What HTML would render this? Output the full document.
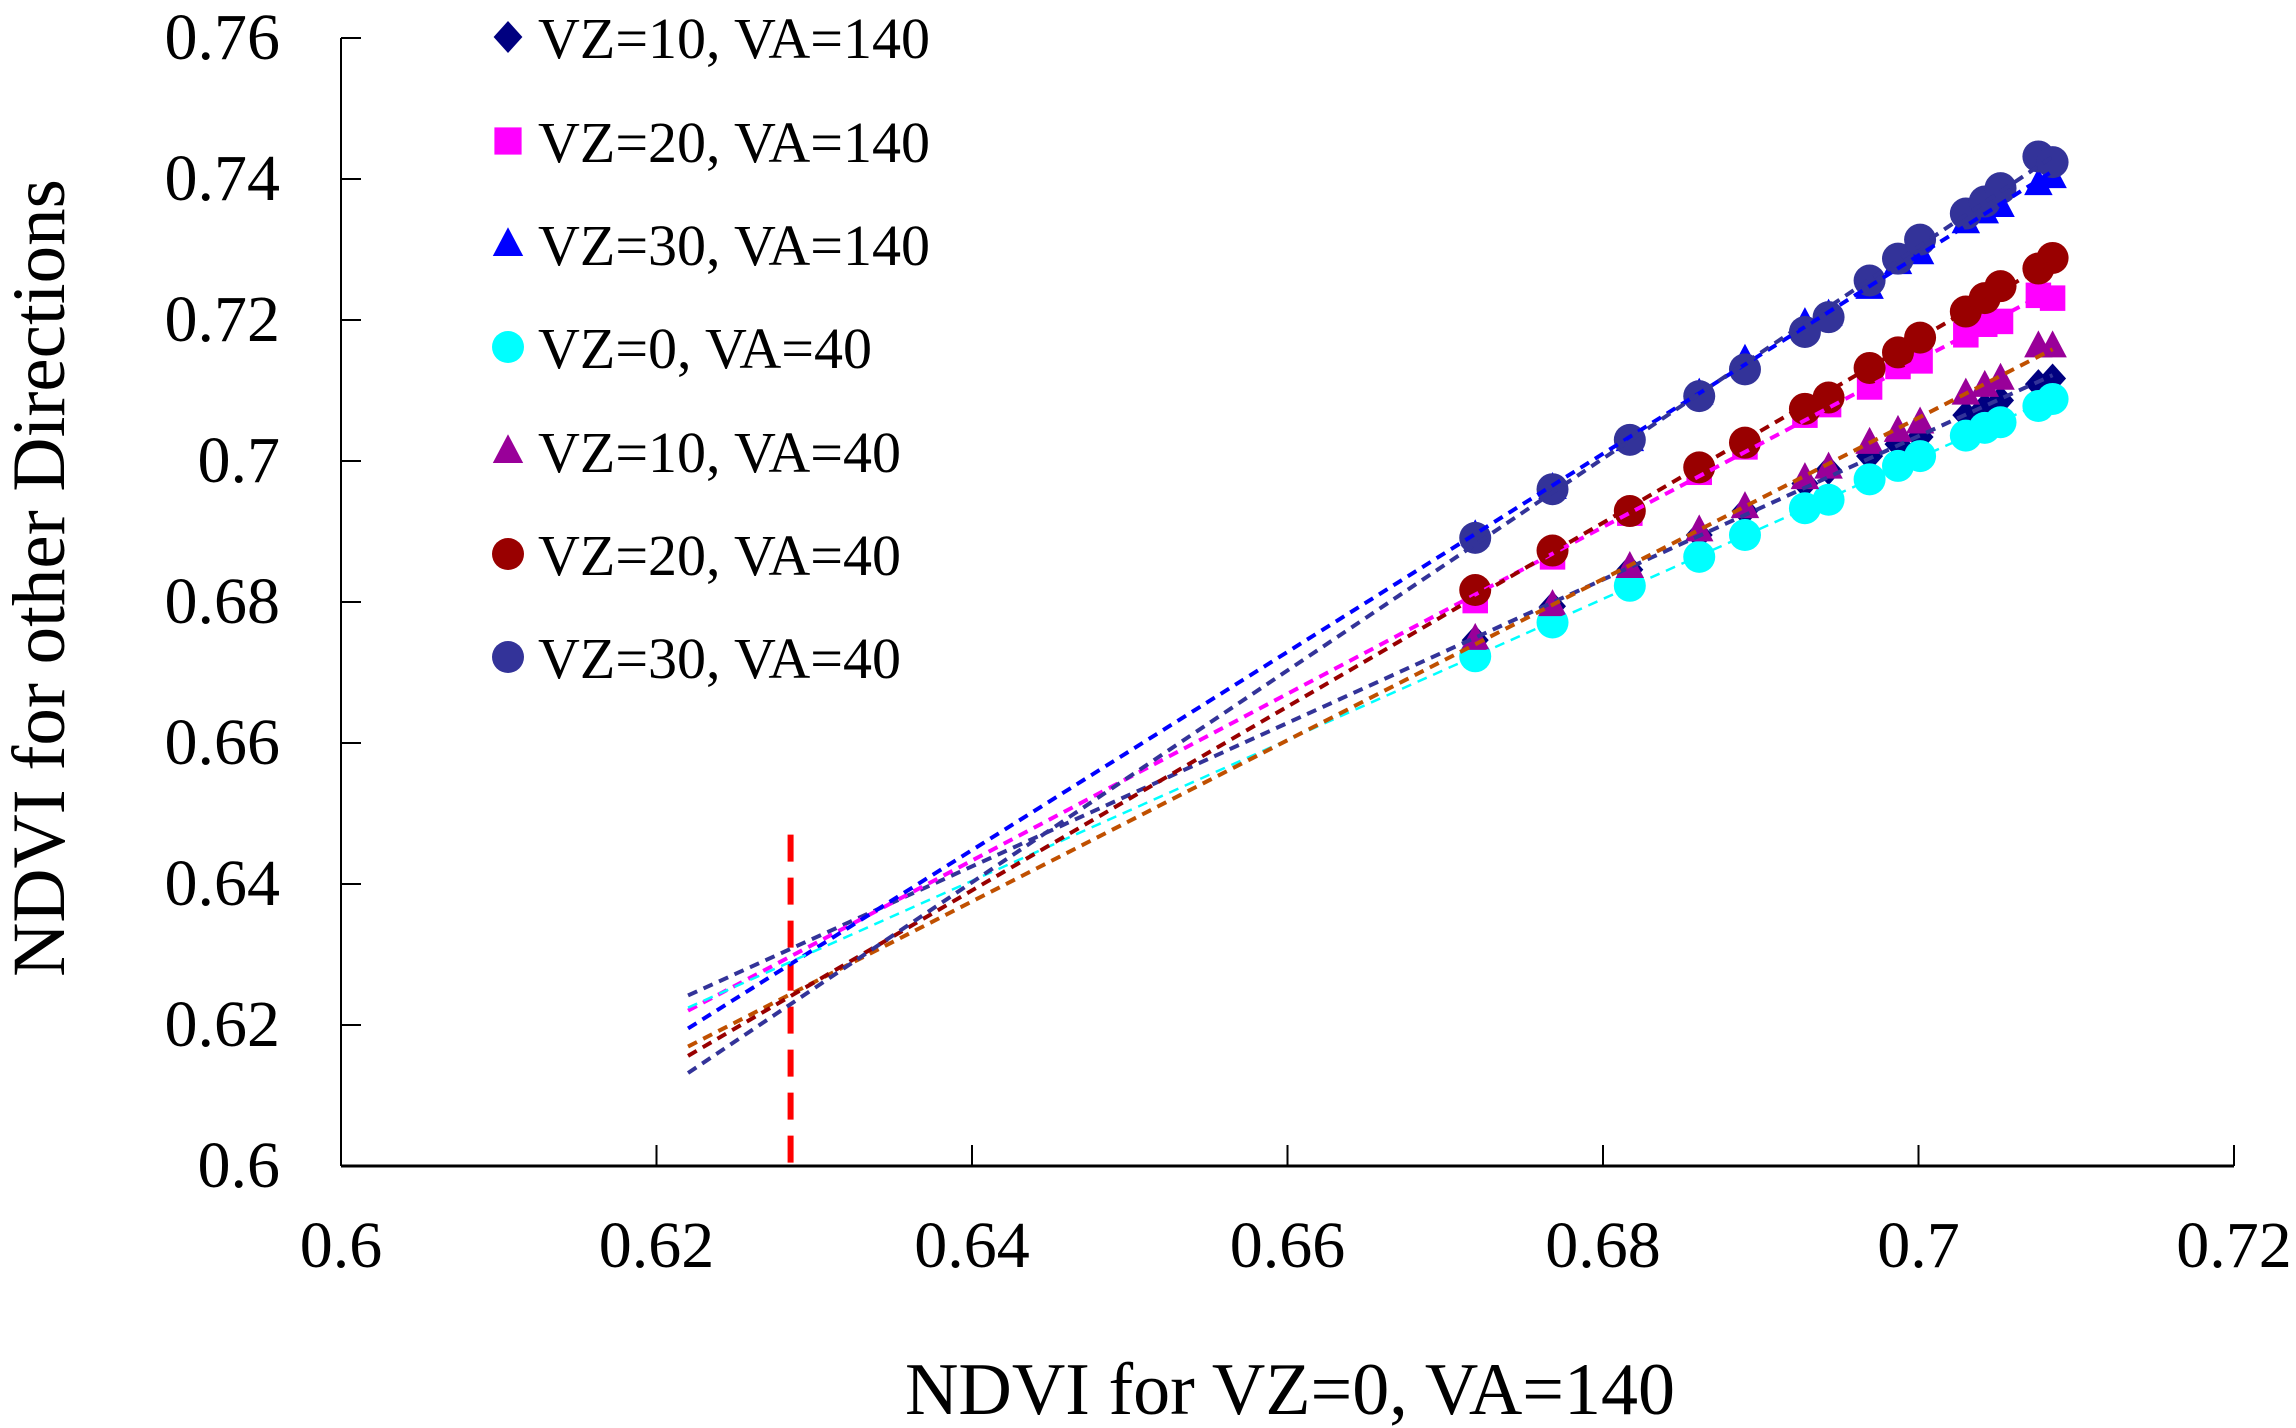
<!DOCTYPE html>
<html><head><meta charset="utf-8">
<style>
html,body{margin:0;padding:0;background:#fff;}
svg{display:block;}
text{font-family:"Liberation Serif",serif;fill:#000;}
</style></head>
<body>
<svg id="chart" width="2296" height="1428" viewBox="0 0 2296 1428" xmlns="http://www.w3.org/2000/svg">
<rect x="0" y="0" width="2296" height="1428" fill="#fff"/>
<g id="axes"></g>
<g id="marks"></g>
<g id="trends"></g>
<g id="legend"></g>
<text x="0" y="0" font-size="75" text-anchor="middle" transform="translate(64,578) rotate(-90)">NDVI for other Directions</text>
<text x="1290" y="1414" font-size="74" text-anchor="middle">NDVI for VZ=0, VA=140</text>
</svg>
<script>
const xTicks = [0.6, 0.62, 0.64, 0.66, 0.68, 0.7, 0.72];
const xTickLabels = ["0.6", "0.62", "0.64", "0.66", "0.68", "0.7", "0.72"];
const yTicks = [0.6, 0.62, 0.64, 0.66, 0.68, 0.7, 0.72, 0.74, 0.76];
const yTickLabels = ["0.6", "0.62", "0.64", "0.66", "0.68", "0.7", "0.72", "0.74", "0.76"];
const xValues = [0.6719, 0.6768, 0.6817, 0.6861, 0.6890, 0.6928, 0.6943, 0.6969, 0.6987, 0.7001, 0.7030, 0.7042, 0.7052, 0.7076, 0.7085];
const seriesNames = ["VZ=10, VA=140", "VZ=20, VA=140", "VZ=30, VA=140", "VZ=0, VA=40", "VZ=10, VA=40", "VZ=20, VA=40", "VZ=30, VA=40"];
const vz10va140 = [0.6746, 0.6794, 0.6846, 0.6895, 0.6929, 0.6968, 0.6987, 0.7007, 0.7024, 0.7034, 0.7065, 0.7076, 0.7086, 0.7109, 0.7117];
const vz20va140 = [0.6802, 0.6864, 0.6926, 0.6984, 0.7020, 0.7065, 0.7080, 0.7105, 0.7134, 0.7142, 0.7179, 0.7194, 0.7198, 0.7235, 0.7231];
const vz30va140 = [0.6895, 0.6962, 0.7030, 0.7096, 0.7144, 0.7196, 0.7208, 0.7246, 0.7281, 0.7295, 0.7339, 0.7353, 0.7362, 0.7393, 0.7403];
const vz0va40 = [0.6723, 0.6771, 0.6823, 0.6864, 0.6895, 0.6933, 0.6945, 0.6974, 0.6993, 0.7007, 0.7036, 0.7047, 0.7055, 0.7078, 0.7088];
const vz10va40 = [0.6748, 0.6796, 0.6850, 0.6902, 0.6935, 0.6976, 0.6991, 0.7026, 0.7043, 0.7055, 0.7096, 0.7107, 0.7117, 0.7163, 0.7163];
const vz20va40 = [0.6817, 0.6873, 0.6929, 0.6991, 0.7026, 0.7074, 0.7090, 0.7132, 0.7154, 0.7175, 0.7212, 0.7231, 0.7248, 0.7273, 0.7288];
const vz30va40 = [0.6891, 0.6960, 0.7030, 0.7092, 0.7130, 0.7183, 0.7204, 0.7256, 0.7287, 0.7314, 0.7351, 0.7368, 0.7387, 0.7432, 0.7424];
const trendStart = 0.622;
const markerLineX = 0.6285;
const markerLineTop = 0.647;

const NS = "http://www.w3.org/2000/svg";
const X0 = 341, X1 = 2234, Y0 = 1166, Y1 = 38;
const xMin = 0.6, xMax = 0.72, yMin = 0.6, yMax = 0.76;
function sx(v){ return X0 + (v - xMin) / (xMax - xMin) * (X1 - X0); }
function sy(v){ return Y0 - (v - yMin) / (yMax - yMin) * (Y0 - Y1); }
function mk(tag, attrs, parent){
  const e = document.createElementNS(NS, tag);
  for (const k in attrs) e.setAttribute(k, attrs[k]);
  parent.appendChild(e);
  return e;
}
const axes = document.getElementById('axes');
const marks = document.getElementById('marks');
const trends = document.getElementById('trends');
const legend = document.getElementById('legend');

let yl = mk('line', {x1:X0, y1:sy(yMax), x2:X0, y2:Y0, stroke:'#000', 'stroke-width':2}, axes);


let xl = mk('line', {x1:X0, y1:Y0, x2:X1, y2:Y0, stroke:'#000', 'stroke-width':3}, axes);


xTicks.forEach((v, i) => {
  const t = mk('line', {x1:sx(v), y1:Y0, x2:sx(v), y2:Y0-21, stroke:'#000', 'stroke-width':2}, axes);
  
  
  const l = mk('text', {x:sx(v), y:Y0+101, 'font-size':66, 'text-anchor':'middle'}, axes);
  l.textContent = xTickLabels[i];
  
  
});
yTicks.forEach((v, i) => {
  const t = mk('line', {x1:X0, y1:sy(v), x2:X0+20, y2:sy(v), stroke:'#000', 'stroke-width':2}, axes);
  
  
  const l = mk('text', {x:280, y:sy(v)+21, 'font-size':66, 'text-anchor':'end'}, axes);
  l.textContent = yTickLabels[i];
  
  
});
const rl = mk('line', {x1:sx(markerLineX), y1:sy(markerLineTop), x2:sx(markerLineX), y2:Y0+4, stroke:'#ff0000', 'stroke-width':6, 'stroke-dasharray':'27 16'}, axes);



const seriesData = [vz10va140, vz20va140, vz30va140, vz0va40, vz10va40, vz20va40, vz30va40];
const shapes = ['diamond', 'square', 'triangle', 'circle', 'triangle', 'circle', 'circle'];
const colors = ['#000080', '#ff00ff', '#0000ff', '#00ffff', '#990099', '#990000', '#333399'];
const trendColors = ['#333399', '#ff00ff', '#0000ff', '#00ffff', '#c05000', '#990000', '#333399'];
const trendWidths = [4, 4, 4, 2.5, 4, 4, 4];

function marker(shape, cx, cy, color, s, parent){
  if (shape === 'circle') return mk('circle', {cx:cx, cy:cy, r:s, fill:color}, parent);
  if (shape === 'square') return mk('rect', {x:cx-s*0.85, y:cy-s*0.85, width:s*1.7, height:s*1.7, fill:color}, parent);
  if (shape === 'triangle') return mk('polygon', {points:`${cx},${cy-s*1.05} ${cx-s*0.95},${cy+s*0.75} ${cx+s*0.95},${cy+s*0.75}`, fill:color}, parent);
  return mk('polygon', {points:`${cx},${cy-s} ${cx+s*0.9},${cy} ${cx},${cy+s} ${cx-s*0.9},${cy}`, fill:color}, parent);
}

seriesData.forEach((ys, si) => {
  const g = mk('g', {}, marks);
  
  
  ys.forEach((v, i) => {
    const m = marker(shapes[si], sx(xValues[i]), sy(v), colors[si], shapes[si] === 'circle' ? 16 : 15, g);
    
    
  });
});

seriesData.forEach((ys, si) => {
  const n = xValues.length;
  let mx = 0, my = 0;
  for (let i = 0; i < n; i++){ mx += xValues[i]; my += ys[i]; }
  mx /= n; my /= n;
  let sxy = 0, sxx = 0;
  for (let i = 0; i < n; i++){ sxy += (xValues[i]-mx)*(ys[i]-my); sxx += (xValues[i]-mx)*(xValues[i]-mx); }
  const b = sxy / sxx, a = my - b * mx;
  const xe = xValues[n-1];
  const l = mk('line', {x1:sx(trendStart), y1:sy(a + b*trendStart), x2:sx(xe), y2:sy(a + b*xe), stroke:trendColors[si], 'stroke-width':trendWidths[si], 'stroke-dasharray':'10 7'}, trends);
  
  
});

const legendY = [37, 141, 244, 347, 451, 554, 657];
seriesNames.forEach((name, si) => {
  const g = mk('g', {}, legend);
  
  
  marker(shapes[si], 508, legendY[si], colors[si], 16, g);
  const t = mk('text', {x:538, y:legendY[si]+21, 'font-size':58}, g);
  t.textContent = name;
});
</script>
</body></html>
